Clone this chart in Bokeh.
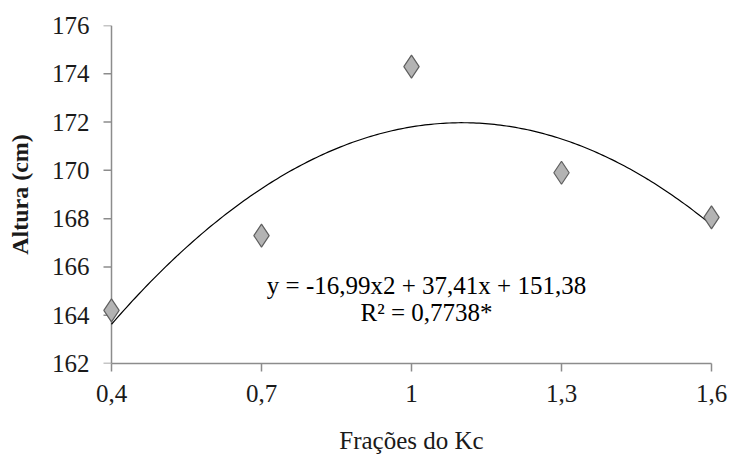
import numpy as np
from bokeh.plotting import figure
from bokeh.models import Range1d, FixedTicker, ColumnDataSource
from bokeh.core.properties import value
from bokeh.embed import file_html
from bokeh.resources import INLINE

# Data
kc_fractions = [0.4, 0.7, 1.0, 1.3, 1.6]
kc_labels = ["0,4", "0,7", "1", "1,3", "1,6"]
altura = [164.2, 167.3, 174.3, 169.9, 168.05]
y_ticks = [162, 164, 166, 168, 170, 172, 174, 176]
coef_a, coef_b, coef_c = -16.99, 37.41, 151.38
equation = "y = -16,99x2 + 37,41x + 151,38"
r2_text = "R² = 0,7738*"

FONT = "Liberation Serif"
AXIS_GRAY = "#8c8c8c"
x_start, x_end = kc_fractions[0], kc_fractions[-1]

p = figure(width=731, height=464, output_backend="svg", toolbar_location=None,
           x_range=Range1d(0.37, 1.63), y_range=Range1d(162, 176),
           min_border_left=96, min_border_right=5, min_border_top=25,
           min_border_bottom=101)
p.outline_line_color = None
p.grid.grid_line_color = None
p.background_fill_color = "white"
p.border_fill_color = "white"

# y axis line and ticks drawn at x = 0.4 (first category)
p.segment(x0=[x_start], y0=[y_ticks[0]], x1=[x_start], y1=[y_ticks[-1]],
          line_color=AXIS_GRAY, line_width=1.5)
p.ray(x=[x_start] * len(y_ticks), y=y_ticks, length=8, length_units="screen",
      angle=np.pi, line_color=AXIS_GRAY, line_width=1.5)

# trendline from fitted equation
xs = np.linspace(x_start, x_end, 200)
ys = coef_a * xs**2 + coef_b * xs + coef_c
p.line(xs, ys, line_color="black", line_width=1.2)

src = ColumnDataSource(dict(x=kc_fractions, y=altura))
p.scatter("x", "y", source=src, marker="diamond", size=23,
          fill_color="#b3b3b3", line_color="#5f5f5f", line_width=1.2)

p.text(x=[1.03, 1.03], y=[165.25, 164.1], text=[equation, r2_text],
       text_align="center", text_baseline="middle",
       text_font=value(FONT), text_font_size="25px", text_color="black")

# x axis
xa = p.xaxis[0]
xa.ticker = FixedTicker(ticks=kc_fractions)
xa.major_label_overrides = {v: l for v, l in zip(kc_fractions, kc_labels)}
xa.bounds = (x_start, x_end)
xa.axis_line_color = AXIS_GRAY
xa.axis_line_width = 1.5
xa.major_tick_line_color = AXIS_GRAY
xa.major_tick_line_width = 1.5
xa.major_tick_out = 8
xa.major_tick_in = 0
xa.minor_tick_line_color = None
xa.major_label_text_font = FONT
xa.major_label_text_font_size = "25px"
xa.major_label_text_color = "#1a1a1a"
xa.major_label_standoff = 13
xa.axis_label = "Frações do Kc"
xa.axis_label_text_font = FONT
xa.axis_label_text_font_size = "25px"
xa.axis_label_text_font_style = "normal"
xa.axis_label_text_color = "#1a1a1a"
xa.axis_label_standoff = 22

# y axis: labels only (line and ticks drawn above at x = 0.4)
ya = p.yaxis[0]
ya.ticker = FixedTicker(ticks=y_ticks)
ya.axis_line_color = None
ya.major_tick_line_color = None
ya.minor_tick_line_color = None
ya.major_tick_out = 0
ya.major_tick_in = 0
ya.major_label_standoff = 7
ya.major_label_text_font = FONT
ya.major_label_text_font_size = "25px"
ya.major_label_text_color = "#1a1a1a"
ya.axis_label = "Altura (cm)"
ya.axis_label_text_font = FONT
ya.axis_label_text_font_size = "24px"
ya.axis_label_text_font_style = "bold"
ya.axis_label_text_color = "#1a1a1a"
ya.axis_label_standoff = 16

open("out.html", "w").write(file_html(p, INLINE))
